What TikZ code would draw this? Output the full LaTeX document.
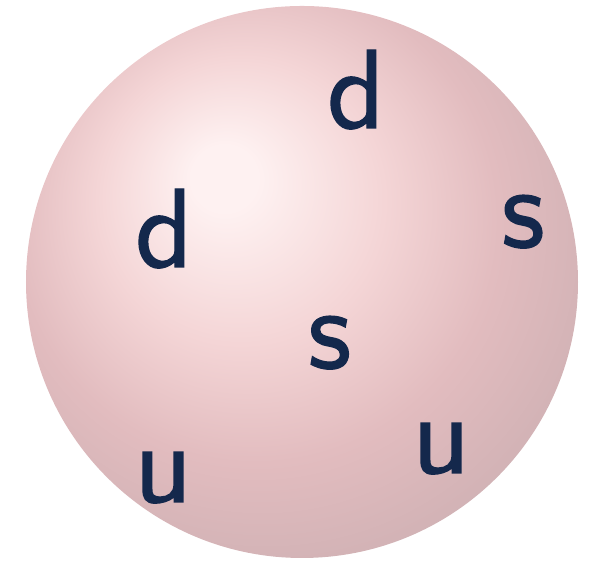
\documentclass[tikz,border=0pt]{standalone}
\usepackage{fontspec}
\newfontfamily\quarkfont{lmsans10-regular.otf}[FakeBold=1.2]
\definecolor{quarkblue}{RGB}{20,40,76}
\definecolor{ballhi}{RGB}{254,241,241}
\definecolor{ballmid}{RGB}{244,213,214}
\definecolor{ballrim}{RGB}{226,188,191}
\definecolor{ballout}{RGB}{196,170,173}
\pgfdeclareradialshading{pinkball}{\pgfpoint{-7.5bp}{10bp}}{%
  color(0bp)=(ballhi); color(3bp)=(ballhi); color(13bp)=(ballmid);
  color(22bp)=(ballrim); color(37bp)=(ballout); color(50bp)=(ballout)}
\tikzset{quark/.style={text=quarkblue, inner sep=0pt, anchor=base,
  font=\quarkfont\fontsize{64}{64}\selectfont}}

\begin{document}
\begin{tikzpicture}
\useasboundingbox (0,0) rectangle (12,11.24);
% the hadron
\shade[shading=pinkball] (6.04,5.60) circle (5.52);
% the quarks
\node[quark] (dtop)   at (7.12,8.68) {d};
\node[quark] (dleft)  at (3.28,5.90) {d};
\node[quark] (sright) at (10.46,6.30) {s};
\node[quark] (smid)   at (6.59,3.88) {s};
\node[quark] (uright) at (8.82,1.78) {u};
\node[quark] (uleft)  at (3.26,1.20) {u};
\end{tikzpicture}
\end{document}
